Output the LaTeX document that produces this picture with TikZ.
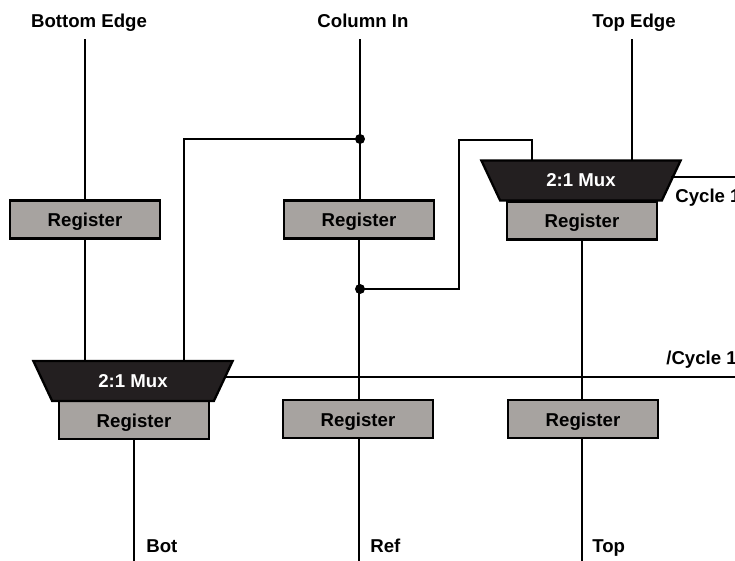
\documentclass[tikz,border=0pt]{standalone}
\usepackage{fontspec}
\setmainfont{Liberation Sans}
\usepackage{xcolor}
\definecolor{regfill}{RGB}{167,163,160}
\definecolor{muxfill}{RGB}{35,31,32}
\usetikzlibrary{positioning, shapes.geometric, calc}

\begin{document}
\begin{tikzpicture}[x=0.02cm, y=-0.02cm,
  register/.style={draw=black, line width=1.3pt, fill=regfill, minimum width=3.0cm, minimum height=0.76cm,
                   inner sep=0pt, text height=9pt, text depth=1pt, font=\fontsize{10.6}{12}\selectfont\bfseries},
  mux/.style={trapezium, shape border rotate=180, trapezium stretches=true, trapezium left angle=58.6,
              trapezium right angle=58.6, draw=black, line width=1.3pt, fill=muxfill, text=white,
              minimum width=4.0cm, minimum height=0.8cm, inner sep=0pt,
              font=\fontsize{10.6}{12}\selectfont\bfseries},
  label/.style={font=\fontsize{10.6}{12}\selectfont\bfseries, inner sep=0pt},
  wire/.style={line width=1.7pt, line cap=rect},
  junction/.style={circle, fill=black, minimum size=0.2cm, inner sep=0pt},
]
  \useasboundingbox (0,0) rectangle (735,561);

  % Labels along the top
  \node[label, anchor=base] (bottomedge) at (89,28) {Bottom Edge};
  \node[label, anchor=base] (columnin) at (363,28) {Column In};
  \node[label, anchor=base] (topedge) at (634,28) {Top Edge};

  % Upper row
  \node[register] (regbottom) at (85,219.5) {Register};
  \node[register] (regcolumn) at (359,219.5) {Register};
  \node[register] (regtop) at (582,220.5) {Register};
  \node[mux] (muxtop) at (581,180.5) {2:1 Mux};

  % Lower row
  \node[register] (regbot) at (134,420) {Register};
  \node[register] (regref) at (358,419) {Register};
  \node[register] (regtopout) at (583,419) {Register};
  \node[mux] (muxbot) at (133,381) {2:1 Mux};

  % Control and output labels
  \node[label, anchor=base west] (cycle) at (675,202) {Cycle 1};
  \node[label, anchor=base west] (ncycle) at (666,364) {/Cycle 1};
  \node[label, anchor=base west] (bot) at (146,552) {Bot};
  \node[label, anchor=base west] (ref) at (370,552) {Ref};
  \node[label, anchor=base west] (top) at (592,552) {Top};

  % Junctions
  \node[junction] (jupper) at (360,139) {};
  \node[junction] (jlower) at (360,289) {};

  % Free ends
  \coordinate (edgeright) at (735,177);
  \coordinate (edgerightb) at (735,377);
  \coordinate (botend) at (134,561);
  \coordinate (refend) at (359,561);
  \coordinate (topend) at (582,561);
  \coordinate (topin) at (85,40);
  \coordinate (colin) at (360,40);
  \coordinate (topedgein) at (632,40);
  \coordinate (muxtopin) at (632,160);
  \coordinate (muxtopalt) at (532,160);
  \coordinate (muxbotin) at (85,360);
  \coordinate (muxbotalt) at (184,360);
  \coordinate (muxtopctl) at (672,177);
  \coordinate (muxbotctl) at (225,377);

  % Wires
  \draw[wire] (topin) -- (regbottom.north -| topin);
  \draw[wire] (regbottom.south -| topin) -- (muxbotin);
  \draw[wire] (colin) -- (regcolumn.north -| colin);
  \draw[wire] (jupper) -- (184,139) -- (muxbotalt);
  \draw[wire] (regcolumn.south) -- (regref.north -| regcolumn.south);
  \draw[wire] (jlower) -- (459,289) -- (459,140) -- (532,140) -- (muxtopalt);
  \draw[wire] (topedgein) -- (muxtopin);
  \draw[wire] (muxtopctl) -- (edgeright);
  \draw[wire] (muxbotctl) -- (edgerightb);
  \draw[wire] (regtop.south) -- (regtopout.north -| regtop.south);
  \draw[wire] (regbot.south) -- (botend);
  \draw[wire] (regref.south -| refend) -- (refend);
  \draw[wire] (regtopout.south -| topend) -- (topend);
\end{tikzpicture}
\end{document}
